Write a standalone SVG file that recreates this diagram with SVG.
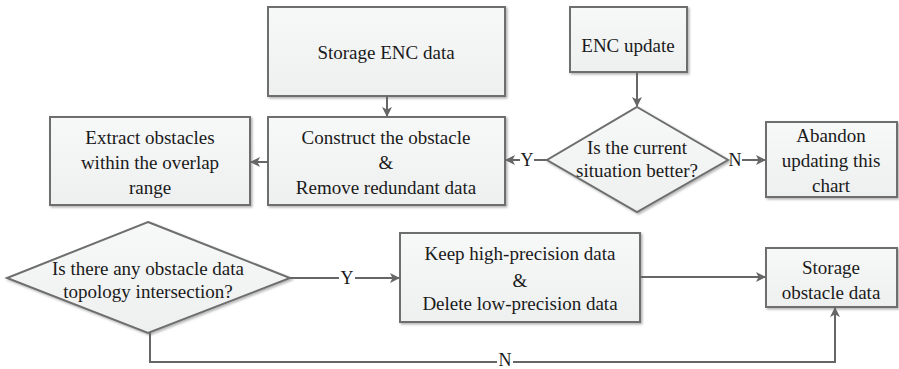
<svg xmlns="http://www.w3.org/2000/svg" width="899" height="369" viewBox="0 0 899 369">
<defs>
<linearGradient id="g" x1="0" y1="0" x2="0" y2="1">
<stop offset="0" stop-color="#f7f8f8"/>
<stop offset="1" stop-color="#eef0f0"/>
</linearGradient>
<filter id="sh" x="-5%" y="-5%" width="115%" height="120%">
<feDropShadow dx="1.5" dy="1.5" stdDeviation="1" flood-color="#000" flood-opacity="0.3"/>
</filter>
<marker id="ah" viewBox="0 0 10 10" refX="9" refY="5" markerWidth="10" markerHeight="10" markerUnits="userSpaceOnUse" orient="auto">
<path d="M0,0 L10,5 L0,10 L2.5,5 Z" fill="#666"/>
</marker>
</defs>
<style>
.box{fill:url(#g);stroke:#6e6e6e;stroke-width:2;filter:url(#sh)}
.t{font-family:'Liberation Serif','Times New Roman',serif;font-size:19px;fill:#1a1a1a;text-anchor:middle;dominant-baseline:central}
.c{fill:none;stroke:#666;stroke-width:2}
.lbl{font-family:'Liberation Serif','Times New Roman',serif;font-size:18px;fill:#1a1a1a;text-anchor:middle;dominant-baseline:central}
</style>
<rect width="899" height="369" fill="#fff"/>
<g id="storageENC"><rect class="box" x="268" y="7" width="237" height="89"/><text class="t" x="386" y="52">Storage ENC data</text></g>
<g id="encUpdate"><rect class="box" x="570" y="7" width="117" height="65"/><text class="t" x="628" y="45">ENC update</text></g>
<g id="construct"><rect class="box" x="268" y="117" width="237" height="88"/><text class="t" x="386" y="137">Construct the obstacle</text><text class="t" x="386" y="162">&amp;</text><text class="t" x="386" y="187">Remove redundant data</text></g>
<g id="extract"><rect class="box" x="50" y="117" width="200" height="88"/><text class="t" x="150" y="137">Extract obstacles</text><text class="t" x="150" y="162">within the overlap</text><text class="t" x="150" y="187">range</text></g>
<g id="decision1"><polygon class="box" points="637,107 728,160 637,212 547,160"/><text class="t" x="637" y="147">Is the current</text><text class="t" x="637" y="170">situation better?</text></g>
<g id="abandon"><rect class="box" x="766" y="122" width="131" height="75"/><text class="t" x="831" y="135">Abandon</text><text class="t" x="831" y="160">updating this</text><text class="t" x="831" y="185">chart</text></g>
<g id="decision2"><polygon class="box" points="148,222 290,278 148,333 7,278"/><text class="t" x="148" y="268">Is there any obstacle data</text><text class="t" x="148" y="291">topology intersection?</text></g>
<g id="keep"><rect class="box" x="400" y="233" width="240" height="89"/><text class="t" x="520" y="253">Keep high-precision data</text><text class="t" x="520" y="280">&amp;</text><text class="t" x="520" y="303">Delete low-precision data</text></g>
<g id="storageObs"><rect class="box" x="766" y="248" width="131" height="59"/><text class="t" x="831" y="267">Storage</text><text class="t" x="831" y="292">obstacle data</text></g>
<g id="connectors">
<line class="c" x1="387" y1="96" x2="387" y2="116" marker-end="url(#ah)"/>
<line class="c" x1="637" y1="72" x2="637" y2="106" marker-end="url(#ah)"/>
<line class="c" x1="268" y1="162" x2="251" y2="162" marker-end="url(#ah)"/>
<line class="c" x1="547" y1="160" x2="534" y2="160"/>
<line class="c" x1="520" y1="160" x2="506" y2="160" marker-end="url(#ah)"/>
<text class="lbl" x="527" y="160">Y</text>
<line class="c" x1="742" y1="160" x2="765" y2="160" marker-end="url(#ah)"/>
<text class="lbl" x="735" y="160">N</text>
<line class="c" x1="290" y1="278" x2="339" y2="278"/>
<line class="c" x1="355" y1="278" x2="399" y2="278" marker-end="url(#ah)"/>
<text class="lbl" x="347" y="278">Y</text>
<line class="c" x1="640" y1="277" x2="765" y2="277" marker-end="url(#ah)"/>
<polyline class="c" points="150,333 150,362 497,362"/>
<polyline class="c" points="513,362 835,362 835,308" marker-end="url(#ah)"/>
<text class="lbl" x="505" y="360">N</text>
</g>
</svg>
